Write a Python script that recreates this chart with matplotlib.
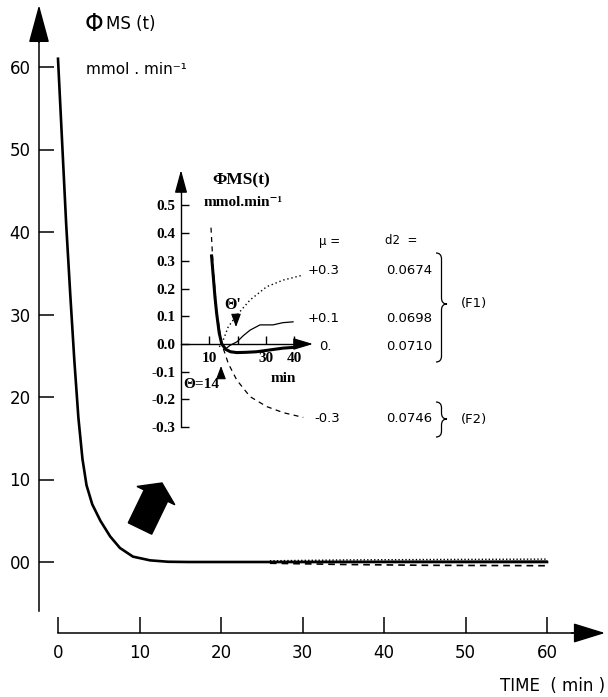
import matplotlib
matplotlib.use('Agg')
import matplotlib.pyplot as plt
from matplotlib.patches import FancyArrow, PathPatch
from matplotlib.path import Path

# ---- data ----
# main curve, time in min, flux in mmol/min
main_t = [0, 0.5, 1.0, 1.5, 2.0, 2.5, 3.0, 3.5, 4.2, 5.2, 6.4, 7.6, 9.2, 11.3, 13.5, 16, 20, 30, 40, 50, 60]
main_v = [61, 51, 41, 32.5, 24.5, 17.5, 12.5, 9.3, 7.0, 5.0, 3.1, 1.7, 0.65, 0.2, 0.03, 0, 0, 0, 0, 0, 0]

# tails of the four mu curves at the main scale
fan_t = [26, 35, 45, 60]
fan_dot = [0.15, 0.25, 0.30, 0.35]
fan_thin = [0.05, 0.08, 0.10, 0.12]
fan_dash = [-0.15, -0.30, -0.40, -0.45]

# inset curves
ins_thick_t = [10.8, 12.0, 12.6, 13.5, 14.4, 15.9, 17.5, 19.7, 23, 26.7, 31, 36, 40]
ins_thick_v = [0.318, 0.17, 0.11, 0.04, 0.0, -0.02, -0.028, -0.031, -0.03, -0.028, -0.022, -0.015, -0.012]
ins_dash_t = [10.6, 11.4, 12.6, 14.4, 16.7, 19.7, 24.4, 30.3, 36.2, 43.2]
ins_dash_v = [0.42, 0.27, 0.12, 0.0, -0.07, -0.13, -0.19, -0.226, -0.248, -0.265]
ins_dot_t = [13.5, 14.4, 16.7, 19.4, 24.4, 30.3, 36.2, 43.2]
ins_dot_v = [-0.01, 0.0, 0.062, 0.10, 0.159, 0.207, 0.231, 0.249]
ins_thin_t = [15.5, 17.3, 19.8, 22, 24.4, 27.9, 32.5, 36, 39.6]
ins_thin_v = [-0.02, -0.005, 0.008, 0.03, 0.05, 0.069, 0.069, 0.077, 0.08]

x_ticks = [0, 10, 20, 30, 40, 50, 60]
x_labels = ['0', '10', '20', '30', '40', '50', '60']
y_ticks = [0, 10, 20, 30, 40, 50, 60]
y_labels = ['00', '10', '20', '30', '40', '50', '60']

ins_x_ticks = [10, 20, 30, 40]
ins_x_labels = ['10', '', '30', '40']
ins_y_ticks = [0.5, 0.4, 0.3, 0.2, 0.1, 0.0, -0.1, -0.2, -0.3]
ins_y_labels = ['0.5', '0.4', '0.3', '0.2', '0.1', '0.0', '-0.1', '-0.2', '-0.3']

mu_labels = ['+0.3', '+0.1', '0.', '-0.3']
d2_labels = ['0.0674', '0.0698', '0.0710', '0.0746']

W, H = 608, 697
fig = plt.figure(figsize=(W / 100, H / 100), dpi=100)

serif_b = dict(family=['Liberation Serif', 'DejaVu Serif'], weight='bold')


def px_axes(x0, x1, y0, y1):
    return fig.add_axes([x0 / W, 1 - y1 / H, (x1 - x0) / W, (y1 - y0) / H])


def axis_arrow(a, base, tip, hl, hw, lw):
    a.annotate('', xy=tip, xytext=base, annotation_clip=False,
               arrowprops=dict(arrowstyle='-|>,head_length=%g,head_width=%g' % (hl, hw),
                               color='k', lw=lw, mutation_scale=10, shrinkA=0, shrinkB=0))


# ---- main axes: t = (px-58)/8.15, v = (562-py)/8.25 ----
ax = px_axes(30, 608, 0, 645)
ax.set_xlim((30 - 58) / 8.15, (608 - 58) / 8.15)
ax.set_ylim((562 - 645) / 8.25, 562 / 8.25)
ax.patch.set_visible(False)

ax.plot(main_t, main_v, color='k', lw=1.9, solid_joinstyle='round')
ax.plot(fan_t, fan_dot, color='k', lw=1.0, ls=(0, (1, 1.5)))
ax.plot(fan_t, fan_thin, color='k', lw=0.8)
ax.plot(fan_t, fan_dash, color='k', lw=1.2, ls=(0, (4, 3)))

for s in ['top', 'right']:
    ax.spines[s].set_visible(False)
yx = (39 - 58) / 8.15
xy = (562 - 633) / 8.25
ax.spines['left'].set_position(('data', yx))
ax.spines['left'].set_bounds((562 - 611) / 8.25, 64)
ax.spines['bottom'].set_position(('data', xy))
ax.spines['bottom'].set_bounds(0, 64)
for s in ['left', 'bottom']:
    ax.spines[s].set_linewidth(1.1)
axis_arrow(ax, (yx, 63), (yx, (562 - 5) / 8.25), 2.4, 0.65, 1.1)
axis_arrow(ax, (63, xy), ((605 - 58) / 8.15, xy), 2.0, 0.62, 1.1)

ax.set_xticks(x_ticks)
ax.set_xticklabels(x_labels)
ax.set_yticks(y_ticks)
ax.set_yticklabels(y_labels)
ax.tick_params(axis='x', direction='in', length=11.5, width=1.1, pad=8, labelsize=12)
ax.tick_params(axis='y', direction='in', length=10.5, width=1.1, pad=6, labelsize=12)

# ---- inset: t = (px-181)/2.83, v = (344-py)/277 ----
ins = px_axes(165, 325, 165, 440)
ins.set_xlim((165 - 181) / 2.83, (325 - 181) / 2.83)
ins.set_ylim((344 - 440) / 277, (344 - 165) / 277)
ins.patch.set_visible(False)

ins.plot(ins_dash_t, ins_dash_v, color='k', lw=0.9, ls=(0, (4, 3.5)), clip_on=False)
ins.plot(ins_dot_t, ins_dot_v, color='k', lw=1.0, ls=(0, (1, 2)), clip_on=False)
ins.plot(ins_thin_t, ins_thin_v, color='k', lw=0.9, clip_on=False)
ins.plot(ins_thick_t, ins_thick_v, color='k', lw=2.2, clip_on=False)

for s in ['top', 'right']:
    ins.spines[s].set_visible(False)
ins.spines['left'].set_position(('data', 0))
ins.spines['left'].set_bounds(-0.3, 0.56)
ins.spines['bottom'].set_position(('data', 0))
ins.spines['bottom'].set_bounds(0, 42)
for s in ['left', 'bottom']:
    ins.spines[s].set_linewidth(1.0)
axis_arrow(ins, (0, 0.55), (0, (344 - 170) / 277), 1.4, 0.38, 1.0)
axis_arrow(ins, (41, 0), ((313 - 181) / 2.83, 0), 1.2, 0.36, 1.0)

ins.set_xticks(ins_x_ticks)
ins.set_xticklabels(ins_x_labels, fontsize=11, **serif_b)
ins.set_yticks(ins_y_ticks)
ins.set_yticklabels(ins_y_labels, fontsize=11, **serif_b)
ins.tick_params(axis='x', direction='in', length=6, width=1.0, pad=6)
ins.tick_params(axis='y', direction='in', length=6, width=1.0, pad=4)

# ---- overlay in pixel coordinates for labels and marks ----
ov = fig.add_axes([0, 0, 1, 1])
ov.set_xlim(0, W)
ov.set_ylim(H, 0)
ov.axis('off')

ov.text(85, 24, 'Φ', fontsize=17, va='center', ha='left')
ov.text(106, 24, 'MS (t)', fontsize=12, va='center', ha='left')
ov.text(86, 70, 'mmol . min⁻¹', fontsize=11, va='center', ha='left')
ov.text(605, 686, 'TIME  ( min )', fontsize=12, va='center', ha='right')

ov.text(241, 180, 'ΦMS(t)', fontsize=12.5, va='center', ha='center', **serif_b)
ov.text(243, 203, 'mmol.min⁻¹', fontsize=11, va='center', ha='center', **serif_b)
ov.text(283, 379, 'min', fontsize=11, va='center', ha='center', **serif_b)
ov.text(201, 384, 'Θ=14', fontsize=11, va='center', ha='center', **serif_b)
ov.text(233, 305, "Θ'", fontsize=11.5, va='center', ha='center', **serif_b)
axis_arrow(ov, (236, 314), (236, 327), 0.8, 0.3, 0.8)
axis_arrow(ov, (221, 377), (221, 366), 0.8, 0.3, 0.8)

ov.text(330, 241, 'μ =', fontsize=8.5, va='center', ha='center')
ov.text(401, 241, 'd2  =', fontsize=8.5, va='center', ha='center')
for y, mu, d2 in zip([271, 319, 346, 418], mu_labels, d2_labels):
    ov.text(340 if mu != '0.' else 319, y, mu, fontsize=9.5, va='center',
            ha='right' if mu != '0.' else 'left')
    ov.text(409, y, d2, fontsize=9.5, va='center', ha='center')


def brace(x, y0, y1, ym, w=11, r=6):
    xm = x + w / 2
    verts = [(x, y0), (xm, y0), (xm, y0 + r), (xm, ym - r), (xm, ym), (x + w, ym),
             (xm, ym), (xm, ym + r), (xm, y1 - r), (xm, y1), (x, y1)]
    codes = [Path.MOVETO, Path.CURVE3, Path.CURVE3, Path.LINETO, Path.CURVE3, Path.CURVE3,
             Path.CURVE3, Path.CURVE3, Path.LINETO, Path.CURVE3, Path.CURVE3]
    ov.add_patch(PathPatch(Path(verts, codes), fill=False, lw=0.9, color='k'))


brace(436, 253, 362, 304)
brace(436, 402, 437, 419)
ov.text(474, 303, '(F1)', fontsize=9.5, va='center', ha='center')
ov.text(474, 419, '(F2)', fontsize=9.5, va='center', ha='center')

# big black arrow pointing at the tail
ov.add_patch(FancyArrow(140, 528.5, 22, -45.5, width=26, head_width=42, head_length=14,
                        length_includes_head=True, color='k'))

fig.savefig('out.png', dpi=100)
